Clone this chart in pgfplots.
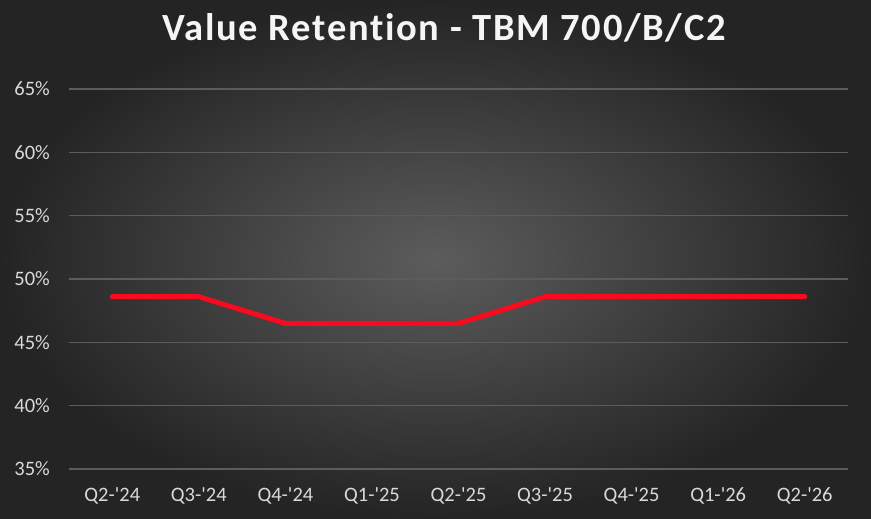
\documentclass[border=0pt]{standalone}
\usepackage{pgfplots}
\pgfplotsset{compat=1.18}
\usepackage{fontspec}
\setmainfont{Carlito}[Ligatures=NoCommon]
\newfontfamily\titlefont{Carlito}[Ligatures=NoCommon, LetterSpace=4.5]
\definecolor{bgin}{RGB}{92,92,92}
\definecolor{bgout}{RGB}{36,36,36}
\definecolor{gridc}{RGB}{92,92,92}
\definecolor{txt}{RGB}{217,217,217}
\definecolor{linered}{RGB}{250,10,30}
\begin{document}
\begin{tikzpicture}[x=1pt,y=1pt]
\useasboundingbox (0,0) rectangle (871,519);
\shade[inner color=bgin, outer color=bgout] (0,0) rectangle (871,519);
\node[anchor=base, text=white!96!black, font=\titlefont\fontsize{38.5}{44}\selectfont\bfseries] at (444,478) {Value Retention - TBM 700/B/C2};
\begin{axis}[
  at={(69pt,50pt)}, anchor=south west,
  scale only axis, width=779pt, height=380pt,
  xmin=-0.5, xmax=8.5, ymin=35, ymax=65,
  xtick={0,...,8},
  xticklabels={Q2-\textquotesingle24,Q3-\textquotesingle24,Q4-\textquotesingle24,Q1-\textquotesingle25,Q2-\textquotesingle25,Q3-\textquotesingle25,Q4-\textquotesingle25,Q1-\textquotesingle26,Q2-\textquotesingle26},
  ytick={35,40,45,50,55,60,65},
  yticklabels={35\%,40\%,45\%,50\%,55\%,60\%,65\%},
  /pgf/number format/assume math mode=true,
  axis line style={draw=none},
  major tick length=0pt,
  ymajorgrids, grid style={color=gridc, line width=1.3pt},
  ticklabel style={text=txt, font=\fontsize{20.5}{24}\selectfont},
  yticklabel style={anchor=east, inner sep=0pt, xshift=-19pt},
  xticklabel style={anchor=base, inner sep=0pt, yshift=-32.5pt},
  clip=false,
]
\addplot[color=linered, line width=5pt, line cap=round, line join=round, mark=none]
 coordinates {(0,48.6) (1,48.6) (2,46.5) (3,46.5) (4,46.5) (5,48.6) (6,48.6) (7,48.6) (8,48.6)};
\end{axis}
\end{tikzpicture}
\end{document}
